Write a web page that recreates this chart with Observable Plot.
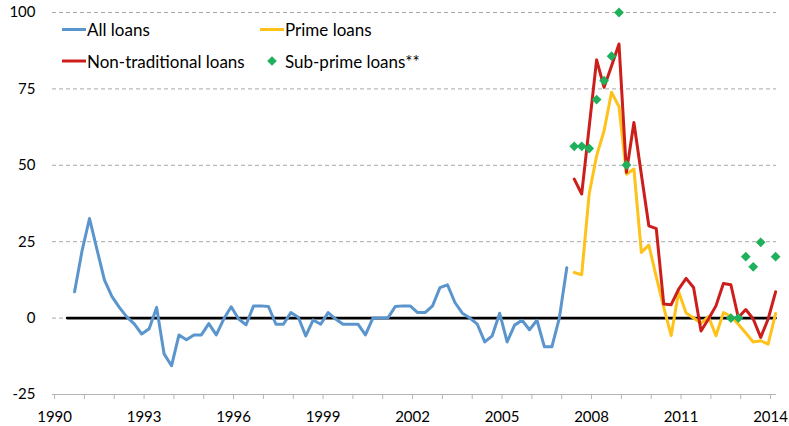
<!DOCTYPE html>
<html><head><meta charset="utf-8">
<script src="https://cdn.jsdelivr.net/npm/d3@7"></script>
<script src="https://cdn.jsdelivr.net/npm/@observablehq/plot@0.6"></script>
<style>
body{margin:0;background:#fff;}
#chart{width:789px;height:426px;}
</style></head><body><div id="chart"></div>
<script>
// Quarterly net percentage values
const allStart = 1990.67;            // first quarter of the "All loans" series
const qStep = 0.25;                  // one quarter
const allLoans = [8.6, 22, 32.6, 22.5, 12.5, 7.1, 3.5, 0.4, -1.9, -5.2, -3.5, 3.5, -11.7, -15.6, -5.5, -7.1, -5.5, -5.5, -1.8, -5.5,
  -0.3, 3.7, -0.3, -2.2, 4, 4, 3.8, -2, -2, 1.8, 0.3, -5.8, -0.6, -2, 1.8, -0.3, -2, -2, -2, -5.5,
  0, 0, 0, 3.8, 4, 4, 1.8, 1.8, 4, 10, 10.9, 5.1, 1.6, 0, -2, -7.8, -5.8, 1.6, -7.8, -2.3,
  -0.7, -3.8, -0.7, -9.4, -9.4, 0, 16.5];
const primeLoans = [14.9, 14.2, 40.6, 53.1, 61.3, 73.9, 69.2, 47.1, 48.8, 21.5, 23.9, 13.5, 3.5, -5.7, 8.6, 1.7, 0, -1.7, 0.5, -5.8,
  1.8, 0.6, -2, -4.9, -7.8, -7.4, -8.5, 1.5];
const nonTraditional = [45.5, 40.6, 62.5, 84.5, 75.5, 82.5, 89.7, 47.7, 64, 47, 30.2, 29.3, 4.6, 4.4, 9.5, 13, 10, -4.2, -0.3, 4,
  11.3, 10.9, 0.2, 2.8, -0.3, -6.3, -0.3, 8.6];
const subPrime = [56.2, 56.2, 55.5, 71.5, 77.7, 85.7, 100, 50.1, null, null, null, null, null, null, null, null, null, null, null, null,
  null, 0, 0, 20.1, 16.8, 24.8, null, 20.1];

const yTicks = [-25, 0, 25, 50, 75, 100];
const gridVals = [0, 25, 50, 75, 100];
const yearTicks = d3.range(1990, 2015);
const yearLabels = [1990, 1993, 1996, 1999, 2002, 2005, 2008, 2011, 2014];

const seriesNames = ["All loans", "Prime loans", "Non-traditional loans", "Sub-prime loans**"];
const seriesColors = ["#5b95cd", "#ffc21a", "#cc1f1c", "#1fb05c"];

const splitStart = allStart + allLoans.length * qStep;
const toRows = (arr, start) => arr.map((v, i) => ({t: start + i * qStep, v})).filter(d => d.v != null);
const allRows = toRows(allLoans, allStart);
const primeRows = toRows(primeLoans, splitStart);
const nonTradRows = toRows(nonTraditional, splitStart);
const subRows = toRows(subPrime, splitStart);
const zeroRows = [{t: allStart - qStep, v: 0}, {t: splitStart + (primeLoans.length - 1) * qStep, v: 0}];

const plot = Plot.plot({
  width: 789, height: 426,
  marginLeft: 52, marginRight: 13, marginTop: 12, marginBottom: 32,
  x: {domain: [1989.93, 2014.2]},
  y: {domain: [-25, 100]},
  style: {fontFamily: "Lato, sans-serif", fontSize: "15px", color: "#000", background: "#fff"},
  marks: [
    Plot.gridY({ticks: gridVals, stroke: "#a8a8a8", strokeOpacity: 1, strokeWidth: 1, strokeDasharray: "4 3"}),
    Plot.ruleY([-25], {stroke: "#b5b5b5", strokeWidth: 1}),
    Plot.axisY({ticks: yTicks, tickSize: 0, tickPadding: 17, tickFormat: d => String(d), label: null}),
    Plot.axisX({ticks: yearTicks, tickSize: 5, tickPadding: 12, stroke: "#b5b5b5",
      tickFormat: d => yearLabels.includes(d) ? String(d) : "", label: null}),
    Plot.lineY(zeroRows, {x: "t", y: "v", stroke: "#000", strokeWidth: 2.6}),
    Plot.lineY(allRows, {x: "t", y: "v", stroke: seriesColors[0], strokeWidth: 3}),
    Plot.lineY(primeRows, {x: "t", y: "v", stroke: seriesColors[1], strokeWidth: 3}),
    Plot.lineY(nonTradRows, {x: "t", y: "v", stroke: seriesColors[2], strokeWidth: 3}),
    Plot.dot(subRows, {x: "t", y: "v", symbol: "diamond2", fill: seriesColors[3], stroke: "none", r: 4.4})
  ]
});

// Legend drawn inside the SVG, top-left of the plot area
const svg = d3.select(plot);
const leg = svg.append("g").attr("font-family", "Lato, sans-serif").attr("font-size", 17).attr("text-anchor", "start");
const legendPos = [
  {x: 62, y: 29.5}, {x: 260, y: 29.5}, {x: 62, y: 61}, {x: 260, y: 61}
];
seriesNames.forEach((name, i) => {
  const p = legendPos[i];
  if (i < 3) {
    leg.append("line").attr("x1", p.x).attr("x2", p.x + 24).attr("y1", p.y).attr("y2", p.y)
      .attr("stroke", seriesColors[i]).attr("stroke-width", 3);
  } else {
    const s = 4.8;
    leg.append("path").attr("d", `M${p.x + 12},${p.y - s}L${p.x + 12 + s},${p.y}L${p.x + 12},${p.y + s}L${p.x + 12 - s},${p.y}Z`)
      .attr("fill", seriesColors[i]);
  }
  leg.append("text").attr("x", p.x + 25).attr("y", p.y + 6.5).attr("fill", "#000").attr("text-anchor", "start").text(name);
});

document.getElementById("chart").appendChild(plot);
</script>
</body></html>
